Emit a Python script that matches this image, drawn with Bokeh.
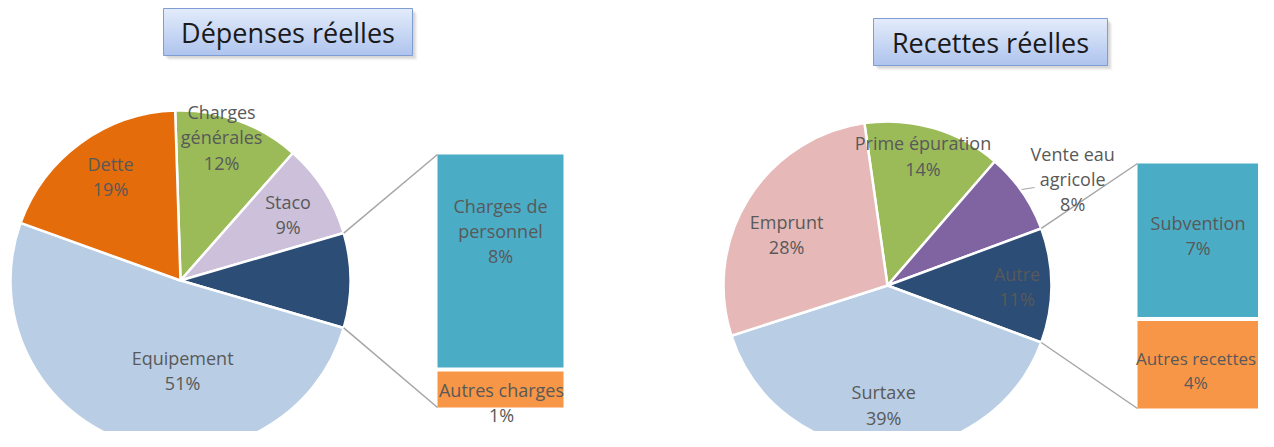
import numpy as np
from bokeh.plotting import figure
from bokeh.models import Range1d
from bokeh.embed import file_html
from bokeh.resources import INLINE
from bokeh.core.properties import value

# ---------------- data ----------------
dep_title = "Dépenses réelles"
dep_pie_labels = ["Charges\ngénérales", "Staco", "Equipement", "Dette"]
dep_pie_values = [12.0, 9.0, 51.0, 19.0]
dep_other_label = ""          # combined slice is not labelled
dep_other_index = 2           # position of the combined slice in the pie
dep_bar_labels = ["Charges de\npersonnel", "Autres charges"]
dep_bar_values = [7.7, 1.3]

rec_title = "Recettes réelles"
rec_pie_labels = ["Prime épuration", "Vente eau\nagricole", "Surtaxe", "Emprunt"]
rec_pie_values = [13.6, 8.0, 39.4, 27.7]
rec_other_label = "Autre"
rec_other_index = 2
rec_bar_labels = ["Subvention", "Autres recettes"]
rec_bar_values = [7.2, 4.1]

# ---------------- styles ----------------
dep_pie_colors = ["#9bbb59", "#ccc0da", "#b9cde5", "#e46c0a"]
rec_pie_colors = ["#9bbb59", "#8064a2", "#b9cde5", "#e6b9b8"]
other_color = "#2c4d75"
bar_colors = ["#4bacc6", "#f79646"]
label_color = "#595959"
FONT = "Open Sans"

W, H = 1258, 431
PAGE_H = 447


def Y(py):
    return PAGE_H - py


p = figure(width=W, height=H, output_backend="svg", toolbar_location=None,
           x_range=Range1d(0, W), y_range=Range1d(PAGE_H - H, PAGE_H),
           min_border=0, outline_line_color=None, background_fill_color="white")
p.axis.visible = False
p.grid.visible = False


def txt(x, y, s, size=18, color=label_color):
    p.text(x=[x], y=[Y(y)], text=[s], text_font=value(FONT),
           text_font_size=f"{size}px", text_color=color, text_align="center",
           text_baseline="middle", text_line_height=1.05)


def title_box(x0, x1, y0, y1, s):
    # soft shadow
    for k, a in zip([5, 4, 3, 2], [0.06, 0.08, 0.1, 0.12]):
        p.quad(left=x0 + k, right=x1 + k, top=Y(y0 + k), bottom=Y(y1 + k),
               fill_color="#808080", fill_alpha=a, line_color=None)
    # vertical gradient
    n = 24
    c0 = np.array([0xe3, 0xec, 0xfb])
    c1 = np.array([0xae, 0xc4, 0xee])
    edges = np.linspace(y0, y1, n + 1)
    for i in range(n):
        c = c0 + (c1 - c0) * (i + 0.5) / n
        col = "#%02x%02x%02x" % tuple(int(round(v)) for v in c)
        p.quad(left=x0, right=x1, top=Y(edges[i]), bottom=Y(edges[i + 1]) - 0.5,
               fill_color=col, line_color=None)
    p.quad(left=x0, right=x1, top=Y(y0), bottom=Y(y1), fill_color=None,
           line_color="#7f9dd2", line_width=1)
    txt((x0 + x1) / 2, (y0 + y1) / 2, s, size=27, color="#1a1a1a")


def pie_of_bar(cx, cy, r, labels, values, colors, other_index, other_label,
               bar_labels, bar_values, bx0, bx1, btop, bbot, gap,
               label_f, label_nudge, other_f, other_nudge, bar_nudge, bar_sizes):
    other_val = sum(bar_values)
    vals = list(values[:other_index]) + [other_val] + list(values[other_index:])
    labs = list(labels[:other_index]) + [other_label] + list(labels[other_index:])
    cols = list(colors[:other_index]) + [other_color] + list(colors[other_index:])
    fs = list(label_f[:other_index]) + [other_f] + list(label_f[other_index:])
    nds = list(label_nudge[:other_index]) + [other_nudge] + list(label_nudge[other_index:])
    total = sum(vals)
    deg = [v / total * 360 for v in vals]
    cum = np.concatenate([[0], np.cumsum(deg)])
    # combined slice centred on the 3 o'clock direction
    start = 90 - (cum[other_index] + deg[other_index] / 2)
    th0 = start + cum[:-1]
    th1 = start + cum[1:]
    sa = np.radians(90 - th1)
    ea = np.radians(90 - th0)
    p.wedge(x=[cx] * len(vals), y=[Y(cy)] * len(vals), radius=r,
            start_angle=list(sa), end_angle=list(ea), direction="anticlock",
            fill_color=cols, line_color="white", line_width=2.5)
    # bar
    tot_b = sum(bar_values)
    avail = (bbot - btop) - gap * (len(bar_values) - 1)
    y = btop
    tops, bots = [], []
    for v in bar_values:
        h = avail * v / tot_b
        tops.append(y)
        bots.append(y + h)
        y += h + gap
    p.quad(left=[bx0] * len(bar_values), right=[bx1] * len(bar_values),
           top=[Y(t) for t in tops], bottom=[Y(b) for b in bots],
           fill_color=bar_colors[:len(bar_values)], line_color=None)
    # connector lines
    ta = np.radians(th0[other_index])
    tb = np.radians(th1[other_index])
    pa = (cx + r * np.sin(ta), cy - r * np.cos(ta))
    pb = (cx + r * np.sin(tb), cy - r * np.cos(tb))
    p.segment(x0=[pa[0], pb[0]], y0=[Y(pa[1]), Y(pb[1])],
              x1=[bx0, bx0], y1=[Y(btop), Y(bbot)],
              line_color="#a6a6a6", line_width=1.5)
    # pie labels
    for i, (lab, v) in enumerate(zip(labs, vals)):
        if not lab:
            continue
        mid = np.radians((th0[i] + th1[i]) / 2)
        lx = cx + fs[i] * r * np.sin(mid) + nds[i][0]
        ly = cy - fs[i] * r * np.cos(mid) + nds[i][1]
        txt(lx, ly, f"{lab}\n{round(v)}%")
    # bar labels
    for lab, v, t, b, nd, sz in zip(bar_labels, bar_values, tops, bots, bar_nudge, bar_sizes):
        txt((bx0 + bx1) / 2 + nd[0], (t + b) / 2 + nd[1], f"{lab}\n{round(v)}%", size=sz)
    return th0, th1


title_box(163, 412, 8, 55, dep_title)
title_box(873, 1107, 18, 65, rec_title)

pie_of_bar(180, 280, 170, dep_pie_labels, dep_pie_values, dep_pie_colors,
           dep_other_index, dep_other_label, dep_bar_labels, dep_bar_values,
           437, 563, 154, 407, 4,
           label_f=[0.87, 0.735, 0.55, 0.74],
           label_nudge=[(-9, -4), (2, 1), (31, 1), (4, -2)],
           other_f=0.7, other_nudge=(0, 0),
           bar_nudge=[(0, -30), (1, 13)], bar_sizes=[18, 18])

pie_of_bar(887, 285, 164, rec_pie_labels, rec_pie_values, rec_pie_colors,
           rec_other_index, rec_other_label, rec_bar_labels, rec_bar_values,
           1137, 1258, 163, 408, 4,
           label_f=[0.81, 1.30, 0.79, 0.69],
           label_nudge=[(-2, -2), (10, 15), (-1, -10), (-5, 9)],
           other_f=0.79, other_nudge=(0, 1),
           bar_nudge=[(0, -5), (-2, 6)], bar_sizes=[18, 17])

# small leader line for "Vente eau agricole"
p.line(x=[1021, 1034], y=[Y(189), Y(187)], line_color="#a6a6a6", line_width=1.2)

open("out.html", "w").write(file_html(p, INLINE))
